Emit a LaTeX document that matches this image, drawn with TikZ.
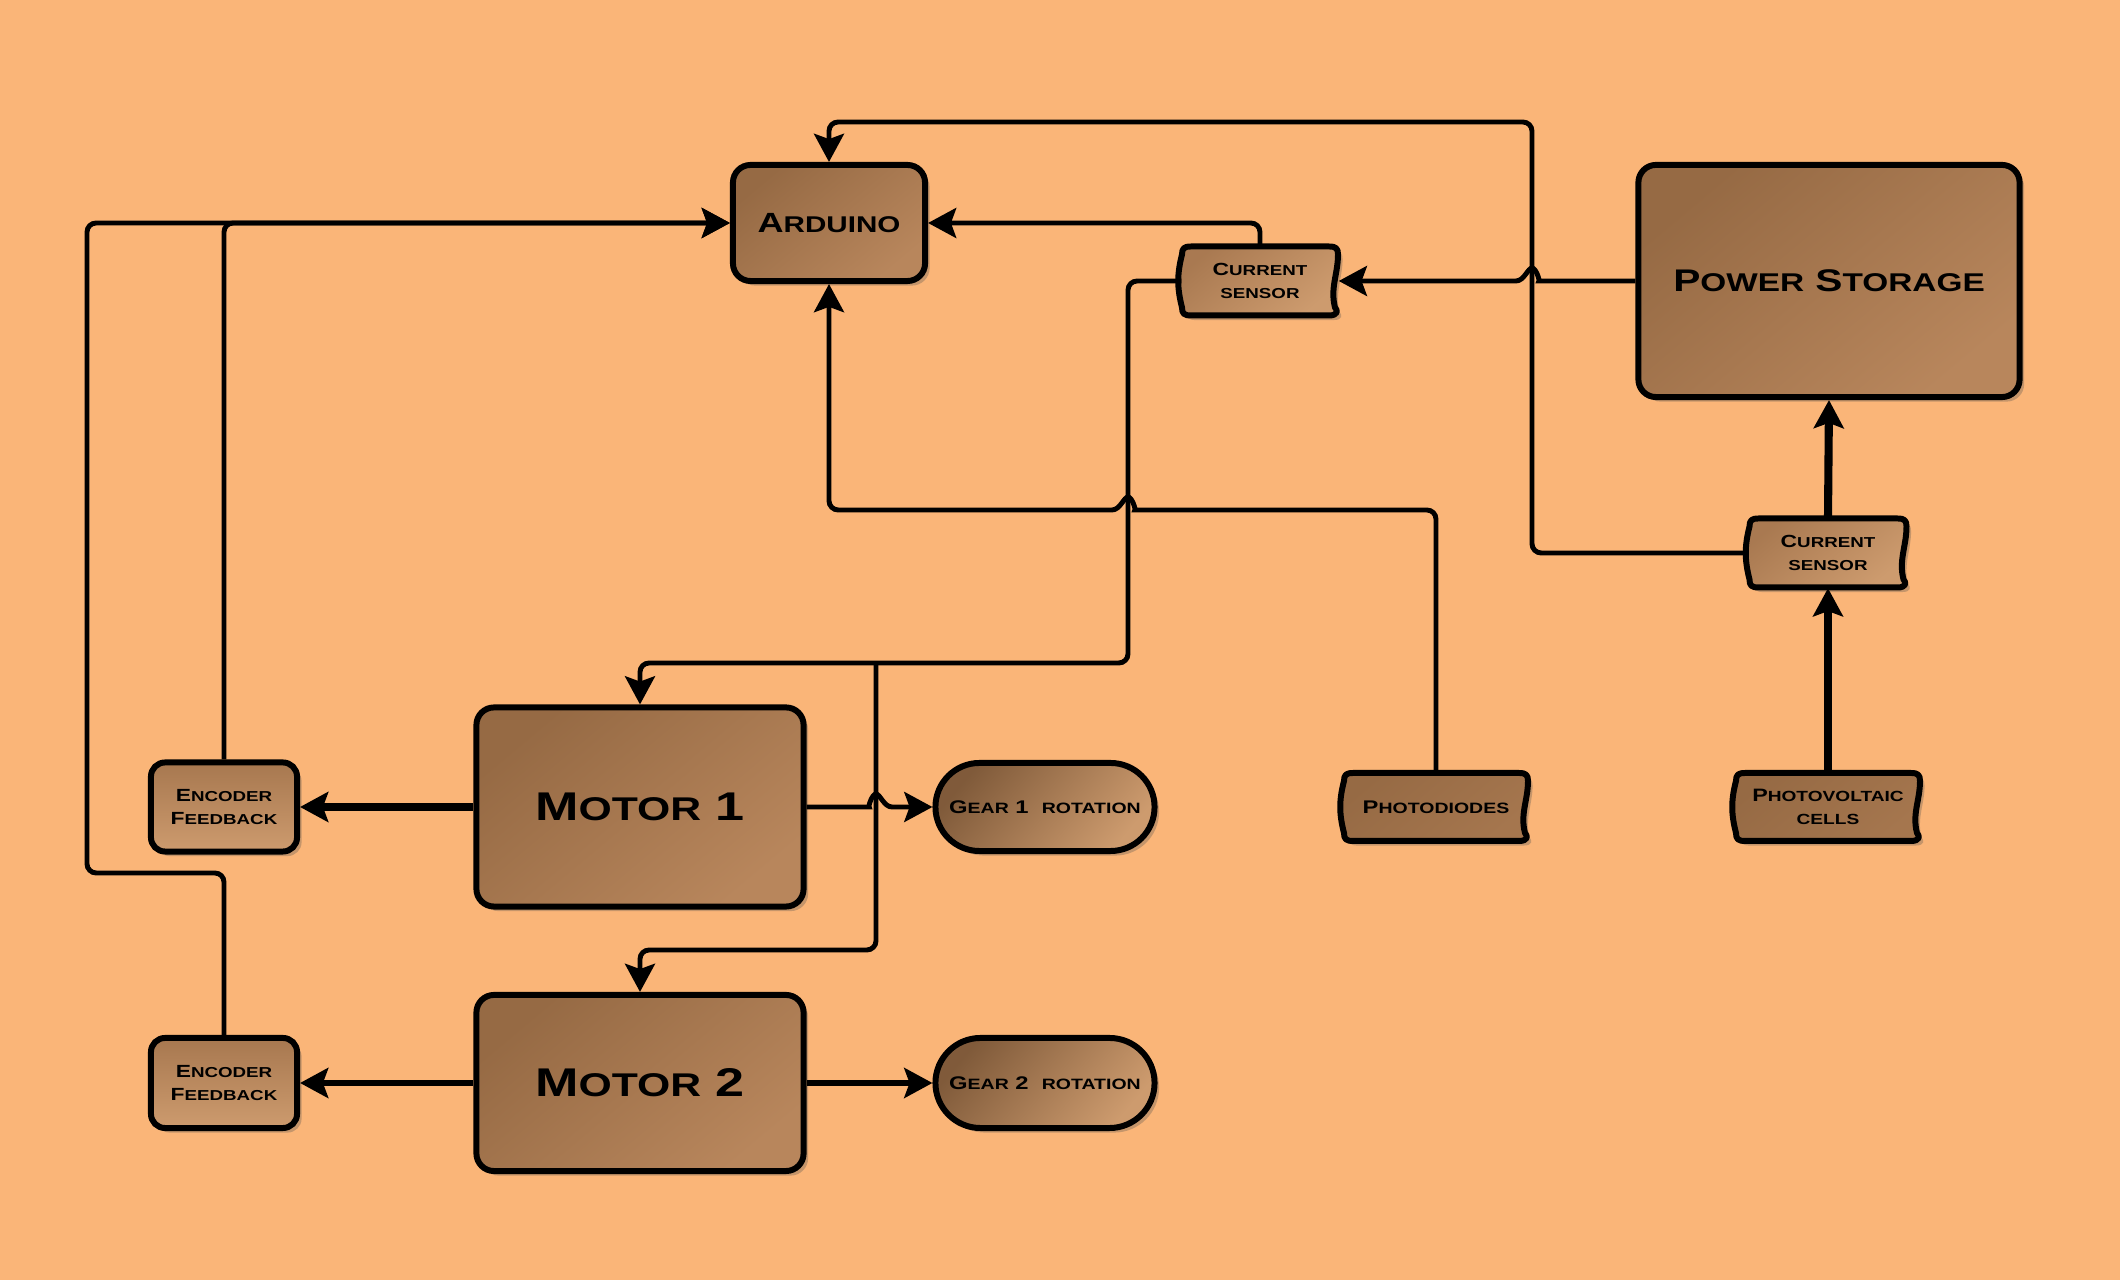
\documentclass[tikz,border=0pt]{standalone}
\usepackage{fontspec}
\usepackage{graphicx}
\setmainfont{Liberation Sans}
\newfontfamily\widefont{Liberation Sans}[FakeStretch=1.3]
\usetikzlibrary{arrows.meta,shadows,shapes.misc,calc}
\definecolor{bg}{RGB}{250,181,120}
\definecolor{brD}{RGB}{150,106,68}
\definecolor{brM}{RGB}{165,118,78}
\definecolor{brL}{RGB}{184,134,92}
\definecolor{brXL}{RGB}{205,155,110}
\newcommand\sct[2]{#1\scalebox{0.82}{#2}}
\newcommand\scs[1]{\scalebox{0.82}{#1}}
\tikzset{
  shadowed/.style={drop shadow={shadow xshift=1.3pt,shadow yshift=-1.3pt,opacity=0.3,fill=black!70}},
  bigbox/.style={draw=black, line width=1.7pt, rounded corners=5pt, shadowed,
    top color=brD, bottom color=brL, shading angle=40, inner sep=0pt, align=center},
  smallbox/.style={bigbox, top color=brM!90!brL, bottom color=brXL, rounded corners=4pt},
  gearbox/.style={draw=black, line width=1.7pt, rounded rectangle, shadowed,
    top color=brD!85!black, bottom color=brXL, shading angle=50, inner sep=0pt, align=center,
    font=\widefont\bfseries\fontsize{5.2}{6}\selectfont},
  wavylabel/.style={inner sep=0pt, align=center},
  wavy/.style={draw=black, line width=1.7pt, shadowed, line join=round},
  conn/.style={draw=black, line width=1.4pt, rounded corners=2.6pt, -{Stealth[length=8pt,width=8.5pt,inset=1.5pt]}},
  medconn/.style={conn, line width=1.9pt},
  thickconn/.style={conn, line width=2.3pt},
}
% wavy box: #1 name, #2 cx, #3 cy, #4 w, #5 h, #6 colours, #7 text, #8 font size
\newcommand\wavybox[8]{%
  \path[wavy,#6] ({#2-#4/2+9},{#3-#5/2}) -- ({#2+#4/2-9},{#3-#5/2})
    .. controls ({#2+#4/2-2},{#3-#5/2}) and ({#2+#4/2},{#3-#5/2+2}) .. ({#2+#4/2},{#3-#5/2+8})
    .. controls ({#2+#4/2},{#3-#5/2+0.4*#5}) and ({#2+#4/2-8},{#3+#5/2-0.4*#5}) .. ({#2+#4/2-3},{#3+#5/2-8})
    .. controls ({#2+#4/2},{#3+#5/2-5}) and ({#2+#4/2},{#3+#5/2}) .. ({#2+#4/2-9},{#3+#5/2})
    -- ({#2-#4/2+9},{#3+#5/2})
    .. controls ({#2-#4/2+2},{#3+#5/2}) and ({#2-#4/2},{#3+#5/2-2}) .. ({#2-#4/2},{#3+#5/2-8})
    .. controls ({#2-#4/2-5},{#3+#5/2-0.4*#5}) and ({#2-#4/2-5},{#3-#5/2+0.4*#5}) .. ({#2-#4/2},{#3-#5/2+8})
    .. controls ({#2-#4/2},{#3-#5/2+2}) and ({#2-#4/2+2},{#3-#5/2}) .. cycle;
  \node[wavylabel, minimum width=#4mm/10, minimum height=#5mm/10, font=\widefont\bfseries\fontsize{#8}{6.6}\selectfont] (#1) at (#2,#3) {#7};
}
\begin{document}
\begin{tikzpicture}[x=0.01cm,y=-0.01cm]
\fill[bg] (0,0) rectangle (2120,1280);
\useasboundingbox (0,0) rectangle (2120,1280);

% main boxes
\node[bigbox, minimum width=19.2mm, minimum height=11.6mm, font=\widefont\bfseries\fontsize{7.9}{10}\selectfont] (ard) at (829,223) {\sct{A}{RDUINO}};
\node[bigbox, minimum width=38.1mm, minimum height=23.2mm, font=\widefont\bfseries\fontsize{8.9}{10}\selectfont] (ps) at (1829,281) {\sct{P}{OWER} \sct{S}{TORAGE}};
\node[bigbox, minimum width=32.7mm, minimum height=19.9mm, font=\widefont\bfseries\fontsize{11.4}{14}\selectfont] (m1) at (640,807) {\sct{M}{OTOR} 1};
\node[bigbox, minimum width=32.7mm, minimum height=17.6mm, font=\widefont\bfseries\fontsize{11.4}{14}\selectfont] (m2) at (640,1083) {\sct{M}{OTOR} 2};
\node[smallbox, minimum width=14.6mm, minimum height=8.9mm, font=\widefont\bfseries\fontsize{5}{6.6}\selectfont] (e1) at (224,807) {\sct{E}{NCODER}\\\sct{F}{EEDBACK}};
\node[smallbox, minimum width=14.6mm, minimum height=9.0mm, font=\widefont\bfseries\fontsize{5}{6.6}\selectfont] (e2) at (224,1083) {\sct{E}{NCODER}\\\sct{F}{EEDBACK}};
\node[gearbox, minimum width=21.9mm, minimum height=8.8mm] (g1) at (1045,807) {\sct{G}{EAR} 1\ \ \scs{ROTATION}};
\node[gearbox, minimum width=21.9mm, minimum height=9.0mm] (g2) at (1045,1083) {\sct{G}{EAR} 2\ \ \scs{ROTATION}};

% wavy boxes
\wavybox{cs1}{1260}{281}{156}{69}{top color=brM!80!brL, bottom color=brXL, shading angle=40}{\sct{C}{URRENT}\\\scs{SENSOR}}{5}
\wavybox{cs2}{1828}{553}{157}{69}{top color=brM!80!brL, bottom color=brXL, shading angle=40}{\sct{C}{URRENT}\\\scs{SENSOR}}{5}
\wavybox{pd}{1436}{807}{184}{68}{top color=brD, bottom color=brM, shading angle=40}{\sct{P}{HOTODIODES}}{5.2}
\wavybox{pv}{1828}{807}{184}{68}{top color=brD, bottom color=brM, shading angle=40}{\sct{P}{HOTOVOLTAIC}\\\scs{CELLS}}{5.1}

% bend coordinates
\coordinate (topbus) at (1532,122);
\coordinate (mbus) at (1128,663);
\coordinate (mj) at (876,663);
\coordinate (m2bus) at (876,950);
\coordinate (pdbus) at (1436,510);
\coordinate (lb) at (87,873);

% connectors
\draw[conn] (cs2.west) -| (topbus) -| (ard.north);
\draw[conn] (ps.west) -- (1548,281) [sharp corners]
   .. controls (1540,281) and (1536,268) .. (1532,268)
   .. controls (1528,268) and (1524,281) .. (1516,281) -- (cs1.east);
\draw[conn] (cs1.north) |- (ard.east);
\draw[conn] (cs1.west) -| (mbus) -| (m1.north);
\draw[conn] (mj) -- (m2bus) -| (m2.north);
\draw[conn] (pd.north) |- (1144,510) [sharp corners]
   .. controls (1136,510) and (1132,497) .. (1128,497)
   .. controls (1124,497) and (1120,510) .. (1112,510) [rounded corners=2.6pt] -| (ard.south);
\draw[conn] (m1.east) -- (860,807) [sharp corners]
   .. controls (868,807) and (872,794) .. (876,794)
   .. controls (880,794) and (884,807) .. (892,807) -- (g1.west);
\draw[medconn] (m2.east) -- (g2.west);
\draw[thickconn] (m1.west) -- (e1.east);
\draw[medconn] (m2.west) -- (e2.east);
\draw[conn] (e1.north) |- (ard.west);
\draw[conn] (e2.north) |- (lb) |- (ard.west);
\draw[thickconn] (pv.north) -- (cs2.south);
\draw[thickconn] (cs2.north) -- (ps.south);
\end{tikzpicture}
\end{document}
